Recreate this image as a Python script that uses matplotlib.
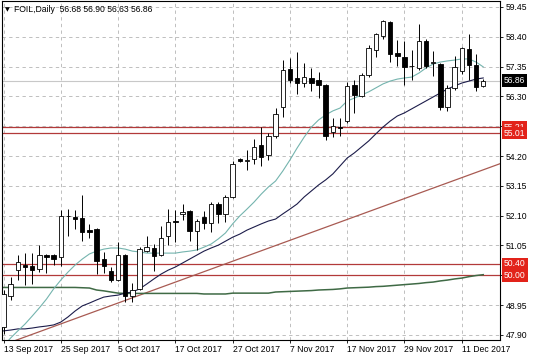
import matplotlib
matplotlib.use("Agg")
import matplotlib.pyplot as plt
import matplotlib.transforms as mtransforms

# daily OHLC, 13 Sep 2017 .. 14 Dec 2017 (one entry per bar)
opens = [48.18, 49.27, 50.19, 50.36, 50.33, 50.22, 50.71, 50.71, 50.64, 52.09,
         52.05, 52.02, 51.59, 51.63, 50.57, 50.15, 49.83, 50.71, 49.27, 49.52,
         50.85, 50.96, 50.71, 51.38, 51.91, 52.16, 52.26, 51.56, 52.05, 51.84,
         52.51, 52.16, 52.76, 54.10, 54.03, 54.10, 54.59, 54.24, 54.91, 55.93,
         57.27, 56.95, 56.77, 56.95, 56.88, 56.70, 55.05, 55.22, 55.43, 56.70,
         56.32, 57.05, 57.93, 58.43, 58.92, 57.83, 57.69, 57.37, 57.30, 58.25,
         57.48, 57.44, 55.93, 56.60, 57.20, 57.97, 57.41, 56.68]
highs = [49.48, 49.94, 50.71, 50.78, 50.78, 51.07, 50.75, 50.75, 52.30, 52.33,
         52.30, 52.83, 51.80, 51.66, 50.82, 50.29, 51.17, 50.75, 49.73, 51.00,
         51.38, 51.10, 51.73, 52.33, 52.30, 52.51, 52.30, 51.98, 52.26, 52.58,
         52.58, 52.83, 54.03, 54.13, 54.41, 54.80, 55.23, 55.02, 55.89, 57.58,
         57.65, 57.86, 57.48, 57.30, 57.16, 56.74, 55.54, 55.54, 56.81, 56.88,
         57.12, 58.11, 58.53, 58.99, 58.96, 58.29, 58.25, 57.93, 58.85, 58.32,
         57.90, 57.48, 56.70, 57.72, 58.04, 58.50, 57.79, 56.90]
lows = [47.93, 49.13, 49.83, 49.66, 49.69, 50.12, 50.08, 50.36, 50.33, 51.38,
        51.63, 51.21, 51.31, 50.04, 50.08, 49.76, 49.80, 49.06, 49.06, 49.48,
        50.82, 50.15, 50.68, 51.06, 51.17, 51.94, 51.21, 50.89, 51.63, 51.52,
        51.84, 51.87, 52.72, 53.99, 53.71, 53.92, 53.85, 54.06, 54.84, 55.58,
        56.77, 56.39, 56.63, 56.49, 56.24, 54.76, 54.87, 54.90, 55.36, 55.72,
        56.28, 56.98, 57.69, 58.32, 57.51, 57.37, 56.70, 56.88, 57.23, 57.30,
        57.02, 55.82, 55.79, 56.53, 57.09, 56.88, 56.49, 56.63]
closes = [49.34, 49.69, 50.47, 50.29, 50.19, 50.71, 50.64, 50.57, 52.09, 52.07,
          51.98, 51.52, 51.52, 50.50, 50.33, 49.83, 50.71, 49.27, 49.48, 50.92,
          50.99, 50.68, 51.31, 51.87, 51.88, 52.22, 51.56, 51.91, 51.84, 52.51,
          52.16, 52.76, 53.92, 54.03, 54.06, 54.52, 54.17, 54.91, 55.68, 57.23,
          56.88, 56.77, 56.98, 56.77, 56.70, 54.91, 55.26, 55.19, 56.67, 56.35,
          57.05, 58.01, 58.50, 58.96, 57.79, 57.72, 57.34, 57.38, 58.25, 57.37,
          57.51, 55.93, 56.60, 57.34, 58.00, 57.41, 56.63, 56.86]

# moving averages
ma_fast = [47.51, 47.79, 48.04, 48.28, 48.56, 48.85, 49.16, 49.52, 49.83, 50.11,
           50.36, 50.57, 50.75, 50.85, 50.92, 50.96, 50.96, 50.92, 50.85, 50.82,
           50.78, 50.78, 50.78, 50.78, 50.78, 50.82, 50.85, 50.89, 50.99, 51.10,
           51.28, 51.49, 51.81, 52.09, 52.33, 52.58, 52.86, 53.11, 53.32, 53.67,
           54.06, 54.48, 54.87, 55.22, 55.47, 55.65, 55.79, 55.89, 56.14, 56.24,
           56.35, 56.46, 56.60, 56.74, 56.84, 56.91, 56.95, 56.98, 57.12, 57.30,
           57.44, 57.51, 57.55, 57.58, 57.62, 57.62, 57.51, 57.34]
ma_slow = [48.04, 48.07, 48.11, 48.11, 48.14, 48.18, 48.21, 48.25, 48.35, 48.53,
           48.74, 48.92, 49.02, 49.13, 49.23, 49.27, 49.30, 49.37, 49.41, 49.52,
           49.69, 49.87, 50.04, 50.18, 50.29, 50.43, 50.57, 50.71, 50.85, 50.96,
           51.06, 51.20, 51.34, 51.45, 51.59, 51.70, 51.81, 51.91, 51.98, 52.16,
           52.33, 52.51, 52.76, 52.97, 53.18, 53.36, 53.57, 53.85, 54.13, 54.31,
           54.52, 54.73, 54.98, 55.22, 55.43, 55.61, 55.72, 55.86, 56.00, 56.14,
           56.28, 56.42, 56.56, 56.67, 56.77, 56.84, 56.91, 56.95]
ma_long = [49.57, 49.57, 49.57, 49.57, 49.57, 49.57, 49.57, 49.57, 49.57, 49.57,
           49.57, 49.56, 49.55, 49.48, 49.45, 49.41, 49.37, 49.36, 49.36, 49.36,
           49.36, 49.36, 49.36, 49.36, 49.36, 49.36, 49.36, 49.36, 49.34, 49.34,
           49.34, 49.34, 49.37, 49.37, 49.37, 49.37, 49.37, 49.37, 49.41, 49.42,
           49.43, 49.44, 49.45, 49.46, 49.48, 49.49, 49.50, 49.52, 49.55, 49.56,
           49.57, 49.58, 49.60, 49.61, 49.63, 49.65, 49.67, 49.69, 49.71, 49.74,
           49.76, 49.80, 49.83, 49.87, 49.90, 49.95, 49.99, 50.02]

trend_x = [0, 70]
trend_y = [47.55, 53.99]

levels = [55.21, 55.01, 50.40, 50.00]
last_price = 56.86

price_ticks = [47.90, 48.95, 50.00, 51.05, 52.10, 53.15, 54.20, 55.25, 56.30, 57.35, 58.40, 59.45]
# 55.25 and 50.00 sit under the level boxes on the price scale
hidden_ticks = [55.25, 50.00]
date_pos = [0, 8, 16, 24, 32, 40, 48, 56, 64]
date_labels = ["13 Sep 2017", "25 Sep 2017", "5 Oct 2017", "17 Oct 2017", "27 Oct 2017",
               "7 Nov 2017", "17 Nov 2017", "29 Nov 2017", "11 Dec 2017"]

plt.rcParams["font.family"] = ["Liberation Sans", "DejaVu Sans"]

fig = plt.figure(figsize=(5.36, 3.57), dpi=100)
ax = fig.add_axes([2 / 536, 17 / 357, 498 / 536, 339 / 357])

idx = list(range(len(closes)))

# levels and price line under the candles
ax.axhline(last_price, color="#c8c8c8", lw=0.8, zorder=1)
for lv in levels:
    ax.axhline(lv, color="#b23a3a", lw=0.9, zorder=1.5)

ax.plot(trend_x, trend_y, color="#a85a52", lw=0.9, zorder=1.6)
ax.plot(idx, ma_long, color="#3f6a45", lw=1.1, zorder=1.7)
ax.plot(idx, ma_slow, color="#1c1c4a", lw=0.8, zorder=1.8)
ax.plot(idx, ma_fast, color="#74b4ae", lw=0.8, zorder=1.9)

# candles
ax.vlines(idx, lows, highs, color="black", lw=0.7, zorder=3)
bodies_bottom = [min(o, c) for o, c in zip(opens, closes)]
bodies_height = [abs(c - o) for o, c in zip(opens, closes)]
colors = ["white" if c >= o else "black" for o, c in zip(opens, closes)]
ax.bar(idx, bodies_height, bottom=bodies_bottom, width=0.62, color=colors,
       edgecolor="black", linewidth=0.6, zorder=4)

ax.set_xlim(-0.21, 69.34)
ax.set_ylim(47.719, 59.661)

ax.yaxis.tick_right()
ax.set_yticks(price_ticks)
ax.set_yticklabels(["" if v in hidden_ticks else f"{v:.2f}" for v in price_ticks])
ax.set_xticks(date_pos)
ax.set_xticklabels(date_labels, ha="left")
ax.tick_params(axis="both", length=2.5, width=0.6, labelsize=6.2, colors="black", pad=1.5)
ax.tick_params(axis="x", pad=1.0)

ax.grid(True, color="#b4b4b4", lw=0.6, linestyle=(0, (4, 4)))
ax.set_axisbelow(True)
for sp in ax.spines.values():
    sp.set_color("black")
    sp.set_linewidth(0.8)

# axis labels for levels
trans = mtransforms.blended_transform_factory(ax.transAxes, ax.transData)
for lv in levels:
    ax.text(1.0 + 4 / 498, lv, f"{lv:.2f}", transform=trans, ha="left", va="center",
            fontsize=6.2, color="white", clip_on=False, zorder=6,
            bbox=dict(facecolor="#e2231a", edgecolor="none", pad=1.3))
ax.text(1.0 + 4 / 498, last_price, f"{last_price:.2f}", transform=trans, ha="left",
        va="center", fontsize=6.2, color="white", clip_on=False, zorder=6,
        bbox=dict(facecolor="black", edgecolor="none", pad=1.3))

# header
fig.text(5 / 536, 1 - 10 / 357, "\u25bc", fontsize=4.5, va="center", ha="left",
         family="DejaVu Sans")
fig.text(14 / 536, 1 - 10 / 357, "FOIL,Daily  56.68 56.90 56.63 56.86",
         fontsize=6.2, va="center", ha="left")

fig.savefig("out.png", dpi=100, facecolor="white")
